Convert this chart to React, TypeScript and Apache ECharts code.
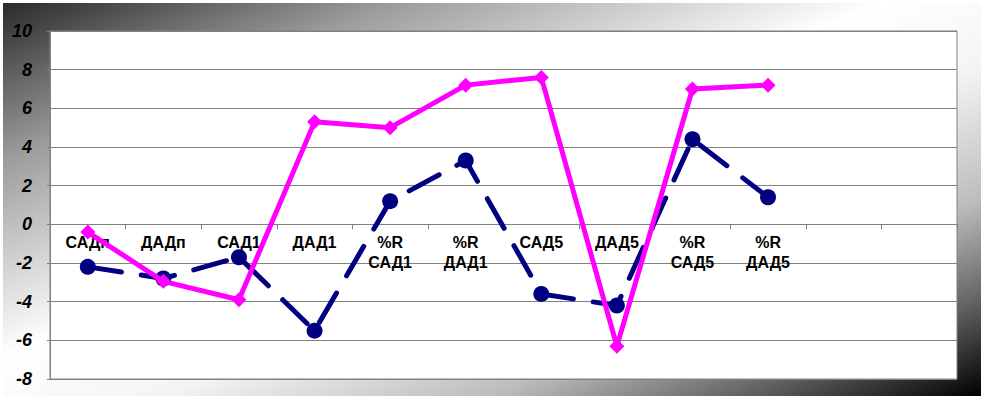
import React, { useEffect, useRef } from "react";
import * as echarts from "echarts";

const categories = ["САДп", "ДАДп", "САД1", "ДАД1", "%R\nСАД1", "%R\nДАД1", "САД5", "ДАД5", "%R\nСАД5", "%R\nДАД5", "", ""];
const navySeries = [-2.2, -2.8, -1.7, -5.5, 1.2, 3.3, -3.6, -4.2, 4.4, 1.4, null, null];
const pinkSeries = [-0.4, -2.95, -3.9, 5.3, 5.0, 7.2, 7.6, -6.3, 7.0, 7.2, null, null];
const yMin = -8;
const yMax = 10;
const yStep = 2;

export default function App() {
  const ref = useRef<HTMLDivElement>(null);
  useEffect(() => {
    const chart = echarts.init(ref.current!, null, { renderer: "svg" });
    const gridTop = 31;
    const gridBottom = 20;
    const gridHeight = 399 - gridTop - gridBottom;
    const zeroOffset = -(gridHeight * (0 - yMin)) / (yMax - yMin);
    chart.setOption({
      animation: false,
      graphic: {
        elements: [
          {
            type: "rect",
            z: -100,
            silent: true,
            shape: { x: 3, y: 3, width: 978, height: 393 },
            style: {
              fill: new echarts.graphic.LinearGradient(0, 0, 1, 1, [
                { offset: 0, color: "#2a2a2a" },
                { offset: 0.2, color: "#9c9c9c" },
                { offset: 0.45, color: "#ffffff" },
                { offset: 0.58, color: "#f4f4f4" },
                { offset: 0.75, color: "#bcbcbc" },
                { offset: 0.88, color: "#606060" },
                { offset: 1, color: "#000000" },
              ]),
            },
          },
        ],
      },
      grid: {
        left: 50,
        right: 27,
        top: gridTop,
        bottom: gridBottom,
        containLabel: false,
        outerBoundsMode: "none",
        show: true,
        backgroundColor: "#ffffff",
        borderColor: "#808080",
        borderWidth: 1,
      },
      xAxis: {
        type: "category",
        data: categories,
        boundaryGap: true,
        offset: zeroOffset,
        axisLine: { onZero: false, lineStyle: { color: "#808080", width: 1 } },
        axisTick: { show: true, length: 5, lineStyle: { color: "#808080" } },
        axisLabel: {
          interval: 0,
          margin: 8,
          color: "#000",
          fontFamily: "Liberation Sans, Arial, sans-serif",
          fontWeight: "bold",
          fontSize: 16,
          lineHeight: 20,
        },
        splitLine: { show: false },
      },
      yAxis: {
        type: "value",
        min: yMin,
        max: yMax,
        interval: yStep,
        axisLine: { show: true, lineStyle: { color: "#808080", width: 1 } },
        axisTick: { show: true, length: 3, lineStyle: { color: "#808080" } },
        axisLabel: {
          margin: 18,
          color: "#000",
          fontFamily: "Liberation Sans, Arial, sans-serif",
          fontWeight: "bold",
          fontStyle: "italic",
          fontSize: 18,
        },
        splitLine: { show: true, lineStyle: { color: "#808080", width: 1 } },
      },
      series: [
        {
          type: "line",
          data: navySeries,
          symbol: "circle",
          symbolSize: 16,
          itemStyle: { color: "#000080" },
          lineStyle: { color: "#000080", width: 5, type: [34, 20], cap: "round" },
          z: 2,
        },
        {
          type: "line",
          data: pinkSeries,
          symbol: "diamond",
          symbolSize: 15,
          itemStyle: { color: "#ff00ff" },
          lineStyle: { color: "#ff00ff", width: 5 },
          z: 3,
        },
      ],
    });
    return () => chart.dispose();
  }, []);
  return (
    <div style={{ position: "fixed", left: 0, top: 0, width: 984, height: 399, background: "#ffffff" }}>
      <div ref={ref} style={{ width: 984, height: 399 }} />
    </div>
  );
}
